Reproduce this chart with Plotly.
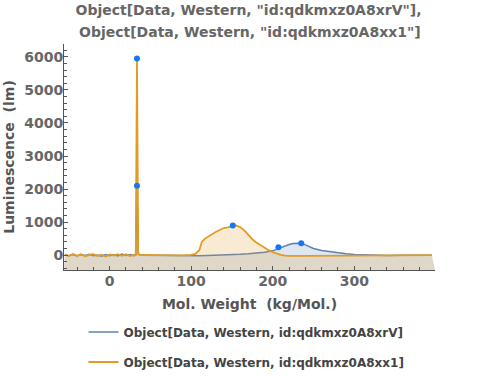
import plotly.graph_objects as go

# --- data -------------------------------------------------------------
blue_name = "Object[Data, Western, id:qdkmxz0A8xrV]"
orange_name = "Object[Data, Western, id:qdkmxz0A8xx1]"

blue_x = [-55, -50, -45, -40, -35, -30, -25, -20, -15, -10, -5, 0, 5, 10, 15, 20, 25, 30, 32, 33.5, 35, 37,
          40, 50, 60, 70, 80, 90, 100, 110, 120, 130, 140, 150, 160, 170, 180, 190, 200, 205, 210, 215,
          220, 225, 230, 235, 240, 245, 250, 260, 270, 280, 290, 300, 310, 320, 340, 360, 380, 395]
blue_y = [10, -15, 20, -25, 15, -10, 25, -20, 5, -30, 20, -15, 10, -25, 30, -10, 15, -20, 0, 2100, 50, 10,
          0, -5, -10, -15, -20, -25, -30, -20, -10, -5, 0, 10, 25, 40, 60, 90, 130, 180, 220, 270,
          320, 350, 345, 360, 310, 250, 200, 140, 100, 70, 40, 20, 10, 0, -10, 0, 5, 0]

orange_x = [-55, -50, -45, -40, -35, -30, -25, -20, -15, -10, -5, 0, 5, 10, 15, 20, 25, 30, 32, 33.5, 35, 37,
            40, 50, 60, 70, 80, 90, 100, 105, 110, 113, 117, 120, 125, 130, 135, 140, 145, 150, 155, 160,
            165, 170, 175, 180, 185, 190, 195, 200, 205, 210, 215, 220, 240, 260, 280, 300, 320, 340,
            360, 380, 395]
orange_y = [20, -30, 35, -20, 25, -35, 10, 30, -25, 15, -40, 20, -15, 30, -20, 25, -30, 10, 0, 5950, 30, 0,
            5, 0, -5, 0, 5, -5, 10, 40, 150, 400, 500, 550, 620, 700, 760, 820, 840, 880, 900, 850,
            750, 620, 480, 380, 300, 230, 150, 90, 40, 10, -15, -25, -25, -20, -20, -15, -5, 0,
            5, 0, 0]

peak_x = [33.5, 33.5, 151, 207, 235]
peak_y = [5950, 2100, 900, 240, 360]

x_range = [-56, 399]
y_range = [-450, 6390]

title_lines = ['Object[Data, Western, "id:qdkmxz0A8xrV"],', 'Object[Data, Western, "id:qdkmxz0A8xx1"]']

BLUE = "#5E81B5"
ORANGE = "#E19C24"
GRAY = "#666666"
FONT = "DejaVu Sans"

fig = go.Figure()

# baseline for filling to bottom of plot
fig.add_trace(go.Scatter(x=x_range, y=[y_range[0]] * 2, mode="lines", line=dict(width=0),
                         showlegend=False, hoverinfo="skip"))
fig.add_trace(go.Scatter(x=blue_x, y=blue_y, mode="lines", name=blue_name, showlegend=False,
                         line=dict(color=BLUE, width=1.5), fill="tonexty",
                         fillcolor="rgba(94,129,181,0.2)"))
fig.add_trace(go.Scatter(x=x_range, y=[y_range[0]] * 2, mode="lines", line=dict(width=0),
                         showlegend=False, hoverinfo="skip"))
fig.add_trace(go.Scatter(x=orange_x, y=orange_y, mode="lines", name=orange_name, showlegend=False,
                         line=dict(color=ORANGE, width=1.8), fill="tonexty",
                         fillcolor="rgba(225,156,36,0.2)"))
fig.add_trace(go.Scatter(x=peak_x, y=peak_y, mode="markers", showlegend=False,
                         marker=dict(color="#1479F0", size=6)))
# legend entries (line only)
fig.add_trace(go.Scatter(x=[None], y=[None], mode="lines", name=blue_name,
                         line=dict(color=BLUE, width=1.5), legend="legend"))
fig.add_trace(go.Scatter(x=[None], y=[None], mode="lines", name=orange_name,
                         line=dict(color=ORANGE, width=1.8), legend="legend2"))

axis_common = dict(
    showgrid=False, zeroline=False, showline=True, linecolor="#555555", linewidth=1,
    ticks="inside", ticklen=4, tickcolor="#555555", automargin=False,
    tickfont=dict(family=FONT, size=14, color=GRAY, weight="bold"),
    minor=dict(ticks="inside", ticklen=3, tickcolor="#555555"),
)

fig.update_xaxes(range=x_range, dtick=100, tick0=0, minor_dtick=20, ticklabelstandoff=-2,
                 title=dict(text="Mol. Weight  (kg/Mol.)",
                            font=dict(family=FONT, size=14, color="#555555", weight="bold"),
                            standoff=11),
                 **axis_common)
fig.update_yaxes(range=y_range, dtick=1000, tick0=0, minor_dtick=200, ticklabelstandoff=-3,
                 title=dict(text="Luminescence  (lm)",
                            font=dict(family=FONT, size=14, color="#555555", weight="bold"),
                            standoff=6),
                 **axis_common)

legend_style = dict(xanchor="left", yanchor="middle", x=0.0526, itemwidth=30,
                    bgcolor="rgba(0,0,0,0)",
                    font=dict(family=FONT, size=12, color="#444444", weight="bold"))

title_font = dict(family=FONT, size=14, color=GRAY, weight="bold")

fig.update_layout(
    width=500, height=376,
    margin=dict(l=64, r=65, t=44, b=106, autoexpand=False),
    paper_bgcolor="white", plot_bgcolor="white",
    title=dict(text=title_lines[0], x=0.497, xanchor="center",
               yref="container", y=1 - 10.5 / 376, yanchor="middle", font=title_font),
    legend=dict(y=-0.274, **legend_style),
    legend2=dict(y=-0.407, **legend_style),
)
fig.add_annotation(text=title_lines[1], xref="paper", yref="paper", x=0.5, xanchor="center",
                   y=1 + 12 / 226, yanchor="middle", showarrow=False, font=title_font)

fig.write_html("out.html")
